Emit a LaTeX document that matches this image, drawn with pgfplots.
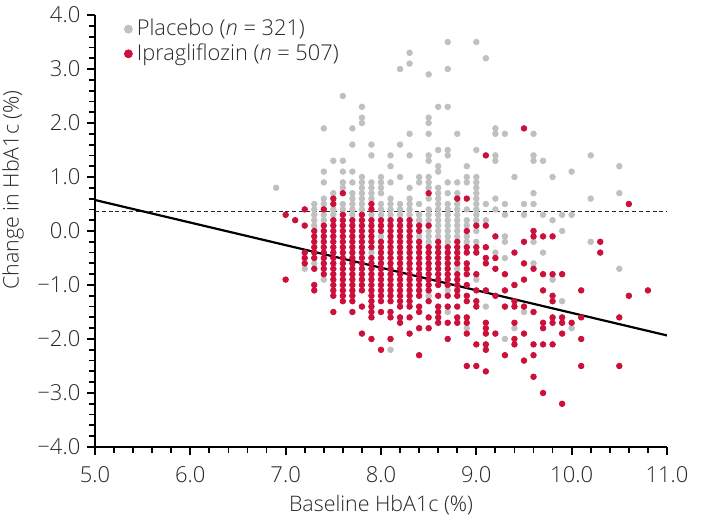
\documentclass[border=0pt]{standalone}
\usepackage{pgfplots}
\pgfplotsset{compat=1.18}
\usepackage{fontspec}
\IfFontExistsTF{Open Sans Light}{\setmainfont{Open Sans Light}[ItalicFont={Open Sans Light Italic}]}{\setmainfont{Open Sans}}
\definecolor{placebo}{RGB}{192,192,192}
\definecolor{ipra}{RGB}{204,16,60}
\definecolor{txt}{RGB}{40,40,40}

\begin{document}
\begin{tikzpicture}
\useasboundingbox (-47.5pt,-35.5pt) rectangle (307pt,223.5pt);
\begin{axis}[
  at={(0,0)}, anchor=south west,
  scale only axis, width=286pt, height=216pt,
  xmin=5, xmax=11, ymin=-4, ymax=4,
  axis x line*=bottom, axis y line*=left,
  axis line style={line width=0.9pt, black},
  xtick={5,6,7,8,9,10,11}, xticklabels={5.0,6.0,7.0,8.0,9.0,10.0,11.0},
  ytick={-4,-3,-2,-1,0,1,2,3,4}, yticklabels={−4.0,−3.0,−2.0,−1.0,0.0,1.0,2.0,3.0,4.0},
  minor x tick num=4, minor y tick num=4,
  tick align=outside,
  major tick length=3.8pt, minor tick length=3pt,
  every tick/.style={line width=0.9pt, black},
  ticklabel style={font=\fontsize{11}{12}\selectfont, text=txt},
  xticklabel style={yshift=-2.6pt},
  xlabel={Baseline HbA1c (\%)}, ylabel={Change in HbA1c (\%)},
  label style={font=\fontsize{10.7}{11}\selectfont, text=txt},
  xlabel style={at={(axis description cs:0.5,-0.135)}, anchor=center},
  ylabel style={at={(axis description cs:-0.1434,0.595)}, anchor=center},
  legend style={at={(axis description cs:0.05,1.0)}, anchor=north west, draw=none, fill=none,
    font=\fontsize{10.9}{11}\selectfont, text=txt, inner sep=0pt, row sep=-1.5pt},
  legend cell align=left,
  legend image code/.code={\fill[#1] (2pt,0pt) circle (2pt);},
]
\addplot[black!85, line width=0.5pt, dash pattern=on 2pt off 1.4pt, forget plot] coordinates {(5,0.37) (11,0.37)};
\addplot[only marks, mark=*, mark size=1.4pt, color=placebo, forget plot] coordinates {
(6.9,0.8) (7.2,-0.7)
(7.3,0.5) (7.3,0.4) (7.3,0.3) (7.3,0.2) (7.3,0.1) (7.3,-0.6)
(7.4,1.9) (7.4,1.1) (7.4,0.9) (7.4,0.6) (7.4,0.5) (7.4,0.3) (7.4,0.2) (7.4,-0.9)
(7.5,1.3) (7.5,0.7) (7.5,0.4) (7.5,0.3)
(7.6,2.5) (7.6,1.3) (7.6,1.1) (7.6,0.9) (7.6,0.8) (7.6,0.5) (7.6,0.4)
(7.7,1.9) (7.7,1.6) (7.7,1.1) (7.7,0.9) (7.7,0.7) (7.7,0.6) (7.7,0.5) (7.7,0.4) (7.7,0.3)
(7.8,2.3) (7.8,2.1) (7.8,2.0) (7.8,1.0) (7.8,0.9) (7.8,0.8) (7.8,0.7) (7.8,0.6) (7.8,0.5) (7.8,0.4)
(7.9,1.6) (7.9,1.4) (7.9,0.9) (7.9,0.8) (7.9,0.7) (7.9,0.6) (7.9,0.3) (7.9,-0.4)
(8.0,1.0) (8.0,0.9) (8.0,0.8) (8.0,0.7) (8.0,0.5) (8.0,0.4) (8.0,0.3) (8.0,-0.1)
(8.1,1.4) (8.1,1.2) (8.1,0.9) (8.1,0.6) (8.1,0.5) (8.1,0.4) (8.1,0.3) (8.1,-2.2)
(8.2,3.0) (8.2,1.6) (8.2,1.0) (8.2,0.5) (8.2,0.4) (8.2,0.3)
(8.3,3.3) (8.3,3.1) (8.3,1.8) (8.3,1.4) (8.3,0.8) (8.3,0.6) (8.3,0.5) (8.3,0.4) (8.3,0.3)
(8.4,1.0) (8.4,0.9) (8.4,0.5) (8.4,0.3) (8.4,0.2) (8.4,-0.1)
(8.5,2.9) (8.5,2.1) (8.5,2.0) (8.5,1.8) (8.5,1.4) (8.5,1.3) (8.5,1.0) (8.5,0.9) (8.5,0.8) (8.5,0.6) (8.5,0.4) (8.5,0.3) (8.5,0.2) (8.5,0.0) (8.5,-0.1) (8.5,-0.2) (8.5,-1.2)
(8.6,2.3) (8.6,1.5) (8.6,1.2) (8.6,1.1) (8.6,0.8) (8.6,0.7) (8.6,0.6) (8.6,0.5) (8.6,0.4) (8.6,0.3) (8.6,0.2) (8.6,0.1) (8.6,0.0) (8.6,-0.1)
(8.7,3.5) (8.7,3.0) (8.7,2.3) (8.7,1.5) (8.7,1.4) (8.7,0.9) (8.7,0.7) (8.7,0.5) (8.7,0.4) (8.7,0.3) (8.7,0.2) (8.7,0.1) (8.7,0.0) (8.7,-0.1) (8.7,-0.2) (8.7,-1.1) (8.7,-1.5)
(8.8,1.8) (8.8,0.9) (8.8,0.7) (8.8,0.5) (8.8,0.4) (8.8,0.3) (8.8,0.2) (8.8,0.1) (8.8,0.0) (8.8,-0.1) (8.8,-0.7)
(8.9,1.2) (8.9,1.0) (8.9,0.9) (8.9,0.4) (8.9,0.2) (8.9,0.1) (8.9,-0.1) (8.9,-0.2) (8.9,-1.8)
(9.0,3.5) (9.0,1.5) (9.0,1.0) (9.0,0.9) (9.0,0.8) (9.0,0.7) (9.0,0.6) (9.0,0.5) (9.0,0.4) (9.0,0.3) (9.0,0.2) (9.0,0.0) (9.0,-0.2) (9.0,-0.9)
(9.1,3.2) (9.1,0.5) (9.1,0.2) (9.1,-1.4)
(9.2,1.9) (9.2,1.8) (9.2,1.4) (9.2,1.3) (9.2,0.6) (9.2,0.4) (9.2,-0.4)
(9.3,1.8) (9.3,0.5) (9.3,0.3) (9.3,-0.1) (9.3,-0.2) (9.3,-0.5) (9.3,-2.0)
(9.4,1.0) (9.4,-1.0) (9.4,-1.8)
(9.5,0.5) (9.5,0.3) (9.5,-1.5)
(9.6,1.8) (9.6,1.4) (9.6,1.3) (9.6,0.7) (9.6,0.5) (9.6,-0.2) (9.6,-0.6)
(9.7,1.3) (9.7,0.3) (9.7,-0.4)
(9.8,1.0) (9.8,0.2) (9.8,-0.9)
(9.9,0.3) (9.9,0.0) (9.9,-1.3)
(10.0,1.1) (10.0,0.3) (10.0,-1.8)
(10.2,1.4) (10.2,0.6) (10.2,-0.2)
(10.5,1.2) (10.5,0.7) (10.5,-0.7)
};
\addplot[only marks, mark=*, mark size=1.4pt, color=ipra, forget plot] coordinates {
(7.0,0.3) (7.0,-0.9) (7.1,0.2)
(7.2,0.4) (7.2,0.1) (7.2,-0.4) (7.2,-0.5) (7.2,-0.6)
(7.3,0.0) (7.3,-0.1) (7.3,-0.2) (7.3,-0.3) (7.3,-0.4) (7.3,-0.5) (7.3,-0.7) (7.3,-1.0) (7.3,-1.1)
(7.4,0.4) (7.4,0.1) (7.4,0.0) (7.4,-0.1) (7.4,-0.2) (7.4,-0.3) (7.4,-0.4) (7.4,-0.5) (7.4,-0.6) (7.4,-0.7) (7.4,-0.8)
(7.5,0.6) (7.5,0.5) (7.5,0.2) (7.5,0.1) (7.5,0.0) (7.5,-0.1) (7.5,-0.2) (7.5,-0.3) (7.5,-0.4) (7.5,-0.5) (7.5,-0.6) (7.5,-0.7) (7.5,-0.8) (7.5,-0.9) (7.5,-1.0) (7.5,-1.1) (7.5,-1.2) (7.5,-1.5)
(7.6,0.7) (7.6,0.3) (7.6,0.2) (7.6,0.1) (7.6,0.0) (7.6,-0.1) (7.6,-0.2) (7.6,-0.3) (7.6,-0.4) (7.6,-0.5) (7.6,-0.6) (7.6,-0.7) (7.6,-0.8) (7.6,-0.9) (7.6,-1.0) (7.6,-1.1) (7.6,-1.2) (7.6,-1.3)
(7.7,0.2) (7.7,0.1) (7.7,0.0) (7.7,-0.1) (7.7,-0.2) (7.7,-0.3) (7.7,-0.4) (7.7,-0.5) (7.7,-0.6) (7.7,-0.7) (7.7,-0.8) (7.7,-0.9) (7.7,-1.0) (7.7,-1.1) (7.7,-1.2) (7.7,-1.3) (7.7,-1.5)
(7.8,0.3) (7.8,0.2) (7.8,0.1) (7.8,0.0) (7.8,-0.1) (7.8,-0.2) (7.8,-0.3) (7.8,-0.4) (7.8,-0.5) (7.8,-0.6) (7.8,-0.7) (7.8,-0.8) (7.8,-0.9) (7.8,-1.0) (7.8,-1.1) (7.8,-1.4) (7.8,-1.9)
(7.9,0.5) (7.9,0.4) (7.9,0.2) (7.9,0.1) (7.9,0.0) (7.9,-0.1) (7.9,-0.2) (7.9,-0.3) (7.9,-0.5) (7.9,-0.6) (7.9,-0.7) (7.9,-0.8) (7.9,-0.9) (7.9,-1.0) (7.9,-1.1) (7.9,-1.2) (7.9,-1.3) (7.9,-1.4) (7.9,-1.5) (7.9,-1.6) (7.9,-2.0)
(8.0,0.2) (8.0,0.1) (8.0,0.0) (8.0,-0.2) (8.0,-0.3) (8.0,-0.4) (8.0,-0.5) (8.0,-0.6) (8.0,-0.7) (8.0,-0.8) (8.0,-0.9) (8.0,-1.0) (8.0,-1.1) (8.0,-1.2) (8.0,-1.3) (8.0,-1.5) (8.0,-2.2)
(8.1,0.2) (8.1,0.1) (8.1,0.0) (8.1,-0.1) (8.1,-0.2) (8.1,-0.3) (8.1,-0.4) (8.1,-0.5) (8.1,-0.6) (8.1,-0.7) (8.1,-0.8) (8.1,-0.9) (8.1,-1.0) (8.1,-1.1) (8.1,-1.2) (8.1,-1.3) (8.1,-1.5) (8.1,-1.6) (8.1,-2.0)
(8.2,0.2) (8.2,0.1) (8.2,0.0) (8.2,-0.1) (8.2,-0.2) (8.2,-0.3) (8.2,-0.4) (8.2,-0.5) (8.2,-0.6) (8.2,-0.7) (8.2,-0.8) (8.2,-0.9) (8.2,-1.0) (8.2,-1.1) (8.2,-1.2) (8.2,-1.3) (8.2,-1.4) (8.2,-1.6) (8.2,-1.7)
(8.3,0.2) (8.3,0.1) (8.3,0.0) (8.3,-0.1) (8.3,-0.2) (8.3,-0.3) (8.3,-0.4) (8.3,-0.5) (8.3,-0.6) (8.3,-0.7) (8.3,-0.8) (8.3,-0.9) (8.3,-1.0) (8.3,-1.1) (8.3,-1.2) (8.3,-1.3) (8.3,-1.4) (8.3,-1.6) (8.3,-1.9)
(8.4,0.1) (8.4,0.0) (8.4,-0.2) (8.4,-0.3) (8.4,-0.4) (8.4,-0.5) (8.4,-0.6) (8.4,-0.7) (8.4,-0.8) (8.4,-0.9) (8.4,-1.0) (8.4,-1.1) (8.4,-1.2) (8.4,-1.4) (8.4,-1.5) (8.4,-1.8) (8.4,-2.3)
(8.5,0.7) (8.5,0.1) (8.5,-0.3) (8.5,-0.4) (8.5,-0.5) (8.5,-0.6) (8.5,-0.7) (8.5,-0.8) (8.5,-0.9) (8.5,-1.0) (8.5,-1.1) (8.5,-1.3) (8.5,-1.6) (8.5,-1.8)
(8.6,-0.2) (8.6,-0.3) (8.6,-0.4) (8.6,-0.5) (8.6,-0.6) (8.6,-0.7) (8.6,-0.8) (8.6,-0.9) (8.6,-1.0) (8.6,-1.2) (8.6,-1.4) (8.6,-1.5) (8.6,-1.6) (8.6,-1.7)
(8.7,-0.3) (8.7,-0.4) (8.7,-0.5) (8.7,-0.6) (8.7,-0.7) (8.7,-0.8) (8.7,-0.9) (8.7,-1.0) (8.7,-1.2) (8.7,-1.4) (8.7,-1.7) (8.7,-2.0)
(8.8,0.6) (8.8,-0.2) (8.8,-0.3) (8.8,-0.4) (8.8,-0.5) (8.8,-0.6) (8.8,-0.8) (8.8,-0.9) (8.8,-1.0) (8.8,-1.1) (8.8,-1.2) (8.8,-1.4) (8.8,-1.6) (8.8,-1.7)
(8.9,0.6) (8.9,0.0) (8.9,-0.3) (8.9,-0.4) (8.9,-0.6) (8.9,-0.7) (8.9,-0.8) (8.9,-1.0) (8.9,-1.2) (8.9,-1.3) (8.9,-1.6) (8.9,-1.7) (8.9,-1.9) (8.9,-2.5)
(9.0,0.1) (9.0,-0.3) (9.0,-0.4) (9.0,-0.8) (9.0,-1.1) (9.0,-1.3) (9.0,-1.4) (9.0,-2.1) (9.0,-2.5)
(9.1,1.4) (9.1,0.1) (9.1,-0.3) (9.1,-0.5) (9.1,-0.6) (9.1,-1.1) (9.1,-1.7) (9.1,-1.8) (9.1,-1.9) (9.1,-2.1) (9.1,-2.2) (9.1,-2.6)
(9.2,-0.1) (9.2,-0.5) (9.2,-0.7) (9.2,-1.2) (9.2,-1.9)
(9.3,-0.8) (9.3,-1.1) (9.3,-1.4) (9.3,-2.3)
(9.4,-0.4) (9.4,-1.0) (9.4,-1.3) (9.4,-1.4) (9.4,-1.7) (9.4,-2.0) (9.4,-2.1)
(9.5,1.9) (9.5,-0.2) (9.5,-0.6) (9.5,-0.9) (9.5,-1.4) (9.5,-1.9) (9.5,-2.4)
(9.6,0.0) (9.6,-0.1) (9.6,-0.7) (9.6,-1.5) (9.6,-2.1) (9.6,-2.3) (9.6,-2.7)
(9.7,-0.1) (9.7,-0.8) (9.7,-1.1) (9.7,-1.7) (9.7,-1.8) (9.7,-2.1) (9.7,-3.0)
(9.8,-0.1) (9.8,-0.8) (9.8,-1.2) (9.8,-1.3) (9.8,-1.6) (9.8,-1.7) (9.8,-2.1)
(9.9,-0.8) (9.9,-1.6) (9.9,-1.7) (9.9,-1.9) (9.9,-3.2)
(10.0,-1.7)
(10.1,-1.1) (10.1,-1.6) (10.1,-2.0) (10.1,-2.5)
(10.3,-0.2) (10.3,-0.4)
(10.5,-1.6) (10.5,-2.5)
(10.6,0.5) (10.6,-1.2)
(10.8,-1.1)
};
\addplot[black, line width=1.1pt, forget plot] coordinates {(5,0.574) (11,-1.934)};
\addlegendimage{placebo}
\addlegendentry{Placebo (\textit{n} = 321)}
\addlegendimage{ipra}
\addlegendentry{Ipragliflozin (\textit{n} = 507)}
\end{axis}
\end{tikzpicture}
\end{document}
